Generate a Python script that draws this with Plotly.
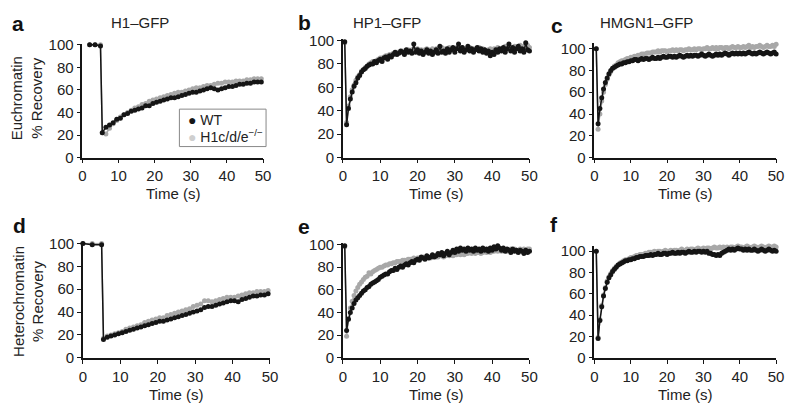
import plotly.graph_objects as go

# ---- data ----
# H1-GFP panels: pre-bleach points, then one frame per second
t_h1_eu = [2, 3.5, 5, 5.5, 6.5, 7.5, 8.5, 9.5, 10.5, 11.5, 12.5, 13.5, 14.5, 15.5, 16.5, 17.5,
           18.5, 19.5, 20.5, 21.5, 22.5, 23.5, 24.5, 25.5, 26.5, 27.5, 28.5, 29.5, 30.5, 31.5,
           32.5, 33.5, 34.5, 35.5, 36.5, 37.5, 38.5, 39.5, 40.5, 41.5, 42.5, 43.5, 44.5, 45.5,
           46.5, 47.5, 48.5, 49.5]
wt_h1_eu = [100, 100, 99,
            22, 27, 29, 31, 34, 35, 38, 39, 41, 42,
            43, 44, 46, 46, 48, 49, 50, 51, 52, 53,
            53, 54, 55, 56, 57, 58, 58, 59, 60, 61,
            62, 61, 60, 61, 62, 63, 63, 64, 65, 65,
            66, 66, 67, 67, 67]
ko_h1_eu = [100, 100, 100,
            22, 21, 26, 30, 33, 36, 38, 40, 42, 44,
            45, 47, 48, 50, 51, 52, 53, 54, 55, 56,
            57, 58, 58, 59, 60, 61, 62, 62, 63, 64,
            64, 65, 66, 66, 67, 67, 67, 68, 68, 68,
            69, 69, 70, 70, 70]

t_h1_het = [0, 2.5, 5, 5.5, 6.5, 7.5, 8.5, 9.5, 10.5, 11.5, 12.5, 13.5, 14.5, 15.5, 16.5, 17.5,
            18.5, 19.5, 20.5, 21.5, 22.5, 23.5, 24.5, 25.5, 26.5, 27.5, 28.5, 29.5, 30.5, 31.5,
            32.5, 33.5, 34.5, 35.5, 36.5, 37.5, 38.5, 39.5, 40.5, 41.5, 42.5, 43.5, 44.5, 45.5,
            46.5, 47.5, 48.5, 49.5]
wt_h1_het = [100, 99, 99,
             16, 18, 19, 20, 21, 22, 23, 24, 25, 26,
             27, 28, 29, 30, 31, 32, 32, 33, 34, 35,
             36, 37, 38, 39, 40, 41, 42, 44, 45, 45,
             46, 47, 48, 49, 50, 50, 49, 51, 52, 53,
             54, 54, 55, 55, 56]
ko_h1_het = [100, 100, 100,
             17, 19, 20, 21, 22, 23, 25, 26, 27, 28,
             29, 31, 32, 33, 34, 35, 35, 37, 38, 39,
             40, 41, 42, 43, 45, 46, 47, 50, 50, 49,
             50, 51, 52, 53, 53, 53, 54, 55, 56, 57,
             57, 58, 58, 58, 59]

# HP1 / HMGN1 panels: one frame every 0.5 s
t_fast = [0.5, 1.0, 1.5, 2.0, 2.5, 3.0, 3.5, 4.0, 4.5, 5.0,
          5.5, 6.0, 6.5, 7.0, 7.5, 8.0, 8.5, 9.0, 9.5, 10.0,
          10.5, 11.0, 11.5, 12.0, 12.5, 13.0, 13.5, 14.0, 14.5, 15.0,
          15.5, 16.0, 16.5, 17.0, 17.5, 18.0, 18.5, 19.0, 19.5, 20.0,
          20.5, 21.0, 21.5, 22.0, 22.5, 23.0, 23.5, 24.0, 24.5, 25.0,
          25.5, 26.0, 26.5, 27.0, 27.5, 28.0, 28.5, 29.0, 29.5, 30.0,
          30.5, 31.0, 31.5, 32.0, 32.5, 33.0, 33.5, 34.0, 34.5, 35.0,
          35.5, 36.0, 36.5, 37.0, 37.5, 38.0, 38.5, 39.0, 39.5, 40.0,
          40.5, 41.0, 41.5, 42.0, 42.5, 43.0, 43.5, 44.0, 44.5, 45.0,
          45.5, 46.0, 46.5, 47.0, 47.5, 48.0, 48.5, 49.0, 49.5, 50.0]

wt_hp1_eu = [99, 28, 42, 50, 56, 61, 64, 68, 70, 73,
             75, 76, 78, 79, 80, 80, 82, 81, 83, 84,
             82, 85, 86, 84, 87, 86, 88, 90, 88, 89,
             91, 90, 88, 92, 90, 91, 89, 97, 90, 92,
             89, 91, 88, 90, 92, 89, 91, 88, 90, 92,
             89, 95, 90, 91, 89, 93, 90, 92, 94, 90,
             93, 97, 91, 94, 90, 92, 95, 91, 93, 90,
             92, 94, 91, 93, 90, 92, 89, 91, 87, 90,
             88, 92, 90, 93, 91, 94, 90, 93, 97, 91,
             94, 90, 93, 95, 91, 93, 90, 98, 92, 91]
ko_hp1_eu = [98, 30, 44, 52, 58, 62, 66, 69, 71, 74,
             75, 77, 78, 80, 81, 82, 82, 83, 84, 85,
             85, 86, 87, 87, 88, 88, 89, 89, 90, 90,
             90, 91, 90, 91, 92, 91, 92, 91, 92, 93,
             91, 92, 91, 92, 93, 92, 91, 93, 92, 93,
             92, 93, 94, 92, 93, 92, 94, 93, 92, 93,
             94, 93, 92, 94, 93, 92, 93, 94, 92, 93,
             92, 93, 94, 92, 93, 92, 91, 92, 93, 92,
             93, 92, 94, 93, 92, 93, 95, 93, 92, 94,
             93, 95, 94, 93, 96, 94, 95, 93, 96, 94]

wt_hmgn_eu = [100, 31, 45, 55, 63, 69, 73, 77, 80, 82,
              83, 84, 85, 86, 86, 87, 87, 88, 88, 89,
              89, 90, 90, 89, 90, 91, 90, 91, 91, 90,
              91, 92, 91, 91, 92, 91, 92, 93, 92, 92,
              93, 93, 92, 93, 92, 93, 94, 93, 92, 93,
              94, 93, 94, 93, 94, 94, 93, 94, 95, 94,
              93, 94, 95, 94, 93, 94, 95, 94, 95, 94,
              95, 96, 95, 94, 95, 96, 95, 96, 95, 96,
              95, 96, 95, 96, 97, 96, 95, 96, 95, 96,
              97, 96, 95, 96, 97, 96, 95, 96, 97, 95]
ko_hmgn_eu = [100, 26, 40, 52, 60, 67, 72, 76, 79, 82,
              84, 85, 87, 88, 89, 89, 90, 91, 91, 92,
              92, 93, 93, 94, 94, 95, 95, 95, 96, 96,
              96, 97, 97, 97, 98, 97, 98, 98, 98, 97,
              98, 98, 99, 98, 99, 98, 99, 99, 98, 99,
              99, 100, 99, 99, 100, 99, 100, 100, 99, 100,
              100, 101, 100, 100, 101, 100, 101, 100, 101, 101,
              100, 101, 101, 100, 101, 102, 101, 101, 102, 101,
              101, 102, 101, 102, 103, 101, 102, 101, 102, 102,
              103, 102, 101, 102, 103, 102, 102, 103, 102, 104]

wt_hp1_het = [99, 24, 34, 40, 44, 48, 51, 53, 55, 57,
              59, 60, 62, 63, 65, 66, 67, 68, 69, 71,
              72, 73, 74, 74, 76, 77, 77, 79, 78, 80,
              81, 80, 82, 83, 82, 84, 85, 84, 86, 87,
              86, 89, 88, 87, 90, 88, 89, 91, 89, 90,
              92, 91, 93, 90, 92, 94, 91, 93, 95, 93,
              96, 94, 97, 95, 96, 94, 97, 95, 96, 94,
              97, 95, 96, 94, 97, 95, 96, 94, 97, 95,
              98, 96, 99, 97, 95, 97, 94, 96, 95, 93,
              96, 94, 95, 93, 95, 94, 92, 95, 93, 94]
ko_hp1_het = [98, 19, 35, 44, 50, 55, 59, 62, 65, 67,
              69, 71, 72, 75, 74, 76, 77, 78, 79, 80,
              80, 81, 82, 82, 83, 83, 84, 84, 85, 85,
              85, 86, 86, 86, 87, 87, 87, 88, 87, 88,
              88, 88, 89, 88, 89, 89, 88, 89, 90, 89,
              89, 90, 90, 89, 90, 91, 90, 91, 90, 91,
              91, 92, 91, 92, 91, 92, 92, 93, 92, 93,
              92, 93, 93, 92, 93, 94, 93, 94, 93, 94,
              94, 95, 94, 95, 94, 95, 95, 94, 95, 96,
              95, 96, 95, 95, 96, 95, 96, 95, 96, 96]

wt_hmgn_het = [100, 18, 35, 48, 58, 65, 71, 75, 78, 81,
               83, 85, 87, 88, 89, 90, 91, 91, 92, 92,
               93, 93, 94, 94, 95, 95, 95, 96, 96, 96,
               97, 96, 97, 97, 98, 97, 97, 98, 98, 97,
               98, 98, 99, 98, 98, 99, 98, 99, 99, 98,
               99, 100, 99, 99, 100, 99, 100, 100, 99, 100,
               99, 100, 98, 98, 97, 97, 96, 97, 96, 98,
               99, 100, 101, 102, 101, 102, 101, 102, 103, 102,
               102, 101, 102, 101, 102, 101, 101, 102, 101, 100,
               101, 102, 101, 100, 101, 102, 101, 100, 101, 100]
ko_hmgn_het = [100, 19, 36, 49, 59, 66, 72, 76, 79, 82,
               84, 86, 87, 89, 90, 91, 92, 92, 93, 94,
               94, 95, 96, 96, 97, 97, 97, 98, 98, 99,
               99, 99, 100, 99, 100, 100, 99, 100, 101, 100,
               100, 101, 100, 101, 101, 100, 101, 102, 101, 101,
               102, 101, 102, 102, 101, 102, 103, 102, 102, 103,
               102, 103, 103, 102, 103, 104, 103, 103, 104, 103,
               104, 103, 104, 103, 104, 104, 103, 104, 105, 104,
               104, 103, 104, 105, 104, 103, 104, 105, 104, 103,
               104, 105, 104, 103, 104, 105, 104, 104, 105, 104]

titles = ["H1–GFP", "HP1–GFP", "HMGN1–GFP"]
letters = ["a", "b", "c", "d", "e", "f"]
row_labels = ["Euchromatin<br>% Recovery", "Heterochromatin<br>% Recovery"]
legend_names = ["WT", "H1c/d/e<sup>−/−</sup>"]
x_ticks = [0, 10, 20, 30, 40, 50]
y_ticks = [0, 20, 40, 60, 80, 100]

# the page body keeps an 8 px margin, so the figure is sized to fit inside it
OFF = 8
W, H = 800 - 2 * OFF, 417 - 2 * OFF
FONT = "Liberation Sans, Arial, sans-serif"
BLACK = "#151515"
GRAY = "#a8a8a8"
TXT = "#222"


def px(x):
    return (x - OFF) / W


def py(y):
    return 1 - (y - OFF) / H


# pixel geometry (page px) of each panel: x at t=0, x at t=50, y at 0, y at 100, top of range
panels = [
    dict(t=t_h1_eu, wt=wt_h1_eu, ko=ko_h1_eu, x0=79.5, x50=263, y0=155.5, y100=38, top=101),
    dict(t=t_fast, wt=wt_hp1_eu, ko=ko_hp1_eu, x0=344, x50=533.5, y0=155.5, y100=33.5, top=101),
    dict(t=t_fast, wt=wt_hmgn_eu, ko=ko_hmgn_eu, x0=599.5, x50=784, y0=155.5, y100=42, top=105),
    dict(t=t_h1_het, wt=wt_h1_het, ko=ko_h1_het, x0=80, x50=270, y0=364, y100=245, top=101),
    dict(t=t_fast, wt=wt_hp1_het, ko=ko_hp1_het, x0=344, x50=533.5, y0=364, y100=246, top=101),
    dict(t=t_fast, wt=wt_hmgn_het, ko=ko_hmgn_het, x0=599.5, x50=784, y0=364, y100=253, top=105),
]
letter_pos = [(14, 16), (305, 15), (561, 18), (16, 226), (305, 227), (558, 225)]
title_pos = [(138, 15), (389, 15), (652, 15)]
time_y = [192.5, 192.5, 192.5, 402.5, 402.5, 402.5]

fig = go.Figure()
layout = {}
ann = []
tick_font = dict(size=15, color=TXT, family=FONT)

for i, p in enumerate(panels):
    n = "" if i == 0 else str(i + 1)
    xa, ya = "x" + n, "y" + n
    ytop_px = p["y0"] - p["top"] / 100 * (p["y0"] - p["y100"])
    layout["xaxis" + n] = dict(
        domain=[px(p["x0"]), px(p["x50"])], range=[0, 50], anchor=ya,
        tickvals=x_ticks, ticks="outside", ticklen=4, tickwidth=1.3, tickcolor=BLACK,
        showline=True, linewidth=1.5, linecolor=BLACK, showgrid=False, zeroline=False,
        tickfont=tick_font)
    layout["yaxis" + n] = dict(
        domain=[py(p["y0"]), py(ytop_px)], range=[0, p["top"]], anchor=xa,
        tickvals=y_ticks, ticks="outside", ticklen=4, tickwidth=1.3, tickcolor=BLACK,
        showline=True, linewidth=1.5, linecolor=BLACK, showgrid=False, zeroline=False,
        tickfont=tick_font)

    fig.add_trace(go.Scatter(x=p["t"], y=p["ko"], xaxis=xa, yaxis=ya, mode="lines+markers",
                             line=dict(color=GRAY, width=1.5), marker=dict(color=GRAY, size=5),
                             cliponaxis=False, showlegend=False))
    fig.add_trace(go.Scatter(x=p["t"], y=p["wt"], xaxis=xa, yaxis=ya, mode="lines+markers",
                             line=dict(color=BLACK, width=1.5), marker=dict(color=BLACK, size=5),
                             cliponaxis=False, showlegend=False))

    lx, ly = letter_pos[i]
    ann.append(dict(text="<b>%s</b>" % letters[i], x=px(lx), y=py(ly),
                    font=dict(size=21, color="#111", family=FONT)))
    ann.append(dict(text="Time (s)", x=px((p["x0"] + p["x50"]) / 2), y=py(time_y[i]),
                    font=dict(size=15, color=TXT, family=FONT)))

for j, tt in enumerate(titles):
    ann.append(dict(text=tt, x=px(title_pos[j][0]), y=py(title_pos[j][1]),
                    font=dict(size=15, color=TXT, family=FONT)))

ann.append(dict(text=row_labels[0], x=px(23), y=py(94), textangle=-90,
                font=dict(size=15, color=TXT, family=FONT)))
ann.append(dict(text=row_labels[1], x=px(24), y=py(305), textangle=-90,
                font=dict(size=15, color=TXT, family=FONT)))

# legend box drawn in panel a
ann.append(dict(text='<span style="color:%s">●</span> %s' % (BLACK, legend_names[0]),
                x=px(185), y=py(116), xanchor="left", font=dict(size=14, color=TXT, family=FONT)))
ann.append(dict(text='<span style="color:#cfcfcf">●</span> %s' % legend_names[1],
                x=px(185), y=py(133), xanchor="left", font=dict(size=14, color=TXT, family=FONT)))

for a in ann:
    a.setdefault("xref", "paper")
    a.setdefault("yref", "paper")
    a.setdefault("xanchor", "center")
    a.setdefault("yanchor", "middle")
    a["showarrow"] = False

shapes = [dict(type="rect", xref="paper", yref="paper", x0=px(178), x1=px(266),
               y0=py(144), y1=py(105), line=dict(color="#888", width=1), fillcolor="white",
               layer="below")]

fig.update_layout(
    width=W, height=H, margin=dict(l=0, r=0, t=0, b=0),
    paper_bgcolor="white", plot_bgcolor="white",
    font=dict(family=FONT, size=15, color=TXT),
    annotations=ann, shapes=shapes, showlegend=False,
    **layout)

fig.write_html("out.html")
